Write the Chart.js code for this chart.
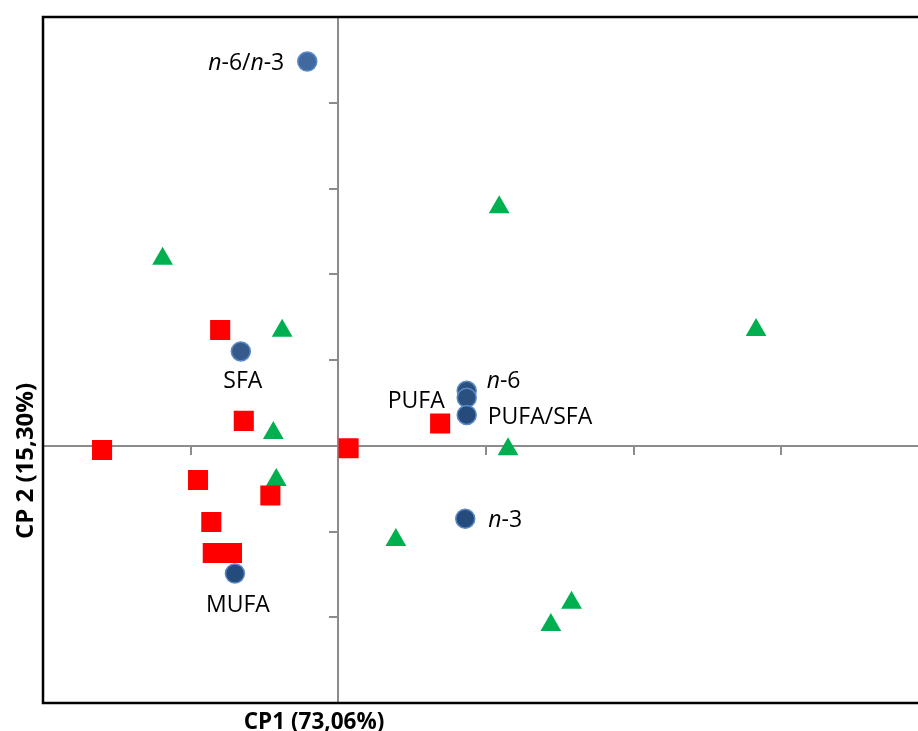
<!DOCTYPE html>
<html>
<head>
<meta charset="utf-8">
<script src="https://cdn.jsdelivr.net/npm/chart.js@4/dist/chart.umd.min.js"></script>
<style>
  html, body { margin: 0; padding: 0; background: #fff; overflow: hidden; }
  canvas { display: block; }
</style>
</head>
<body>
<canvas id="pca" width="943" height="731"></canvas>
<script>
'use strict';

// Loadings (variables)
const varLabels = ['n-6/n-3', 'SFA', 'MUFA', 'n-6', 'PUFA', 'PUFA/SFA', 'n-3'];
const varX = [-0.21, -0.66, -0.70, 0.87, 0.87, 0.87, 0.86];
const varY = [4.48, 1.10, -1.49, 0.64, 0.56, 0.36, -0.85];

// Scores, group 1 (red squares)
const redX = [-1.60, -0.80, -0.64, -0.95, -0.46, -0.86, -0.85, -0.72, 0.07, 0.69];
const redY = [-0.05, 1.35, 0.29, -0.40, -0.58, -0.89, -1.25, -1.25, -0.03, 0.26];

// Scores, group 2 (green triangles)
const greenX = [-1.19, -0.38, -0.44, -0.42, 0.39, 1.15, 1.09, 2.83, 1.58, 1.44];
const greenY = [2.18, 1.34, 0.15, -0.40, -1.10, -0.04, 2.78, 1.35, -1.83, -2.09];

const xTitle = 'CP1 (73,06%)';
const yTitle = 'CP 2 (15,30%)';

const toPoints = (xs, ys) => xs.map((x, i) => ({ x, y: ys[i] }));

// where each loading label sits relative to its point
const labelPlace = {
  'n-6/n-3': { align: 'right', dx: -23, dy: 0 },
  'SFA': { align: 'center', dx: 2, dy: 28 },
  'MUFA': { align: 'center', dx: 3, dy: 30 },
  'n-6': { align: 'left', dx: 20, dy: -11 },
  'PUFA': { align: 'right', dx: -22, dy: 2 },
  'PUFA/SFA': { align: 'left', dx: 21, dy: 1 },
  'n-3': { align: 'left', dx: 23, dy: 0 }
};

const FONT = '"Open Sans", "Noto Sans", sans-serif';

// draws a label with every "n" in italic
function drawMixed(ctx, text, x, yMid, align) {
  const size = 23;
  const runs = text.split(/(n)/).filter(s => s.length);
  const fontOf = s => (s === 'n' ? 'italic ' : '') + size + 'px ' + FONT;
  let total = 0;
  runs.forEach(s => { ctx.font = fontOf(s); total += ctx.measureText(s).width; });
  let cx = align === 'right' ? x - total : align === 'center' ? x - total / 2 : x;
  const base = yMid + size * 0.36;
  ctx.textAlign = 'left';
  ctx.textBaseline = 'alphabetic';
  runs.forEach(s => {
    ctx.font = fontOf(s);
    ctx.fillText(s, cx, base);
    cx += ctx.measureText(s).width;
  });
}

const decor = {
  id: 'decor',
  beforeDatasetsDraw(chart) {
    const { ctx, chartArea: a } = chart;
    ctx.save();
    ctx.strokeStyle = '#000';
    ctx.lineWidth = 2.5;
    ctx.beginPath();
    ctx.moveTo(a.right, a.top);
    ctx.lineTo(a.left, a.top);
    ctx.lineTo(a.left, a.bottom);
    ctx.lineTo(a.right, a.bottom);
    ctx.stroke();

    ctx.fillStyle = '#000';
    ctx.textAlign = 'center';
    ctx.textBaseline = 'alphabetic';
    ctx.font = 'bold 22.5px ' + FONT;
    ctx.fillText(xTitle, 314, 729);
    ctx.font = 'bold 24px ' + FONT;
    ctx.translate(33, 461);
    ctx.rotate(-Math.PI / 2);
    ctx.fillText(yTitle, 0, 0);
    ctx.restore();
  },
  afterDatasetsDraw(chart) {
    const { ctx } = chart;
    const meta = chart.getDatasetMeta(2);
    ctx.save();
    ctx.fillStyle = '#000';
    meta.data.forEach((pt, i) => {
      const p = labelPlace[varLabels[i]];
      drawMixed(ctx, varLabels[i], pt.x + p.dx, pt.y + p.dy, p.align);
    });
    ctx.restore();
  }
};

const axisGrey = '#8c8c8c';

new Chart(document.getElementById('pca'), {
  type: 'scatter',
  data: {
    datasets: [
      {
        label: 'Grupo 1',
        data: toPoints(redX, redY),
        pointStyle: 'rect',
        pointRadius: 14.2,
        backgroundColor: '#ff0000',
        borderColor: '#ff0000',
        borderWidth: 0
      },
      {
        label: 'Grupo 2',
        data: toPoints(greenX, greenY),
        pointStyle: 'triangle',
        pointRadius: 12,
        backgroundColor: '#00b050',
        borderColor: '#00b050',
        borderWidth: 0
      },
      {
        label: 'Variáveis',
        data: toPoints(varX, varY),
        pointStyle: 'circle',
        pointRadius: 9.5,
        backgroundColor: ['#41699f', '#355b8b', '#254a7c', '#2a5080', '#2a5080', '#254a7c', '#254a7c'],
        borderColor: '#5a8ac6',
        borderWidth: 1.5
      }
    ]
  },
  options: {
    responsive: false,
    animation: false,
    events: [],
    layout: { padding: { left: 43, top: 17, right: 1.5, bottom: 28 } },
    plugins: { legend: { display: false }, tooltip: { enabled: false } },
    scales: {
      x: {
        type: 'linear',
        min: -2, max: 4,
        position: { y: 0 },
        ticks: { display: false, stepSize: 1 },
        grid: { display: true, drawOnChartArea: false, drawTicks: true, tickLength: 8, color: axisGrey, lineWidth: 2 },
        border: { display: true, color: axisGrey, width: 2 }
      },
      y: {
        type: 'linear',
        min: -3, max: 5,
        position: { x: 0 },
        ticks: { display: false, stepSize: 1 },
        grid: { display: true, drawOnChartArea: false, drawTicks: true, tickLength: 8, color: axisGrey, lineWidth: 2 },
        border: { display: true, color: axisGrey, width: 2 }
      }
    }
  },
  plugins: [decor]
});
</script>
</body>
</html>
